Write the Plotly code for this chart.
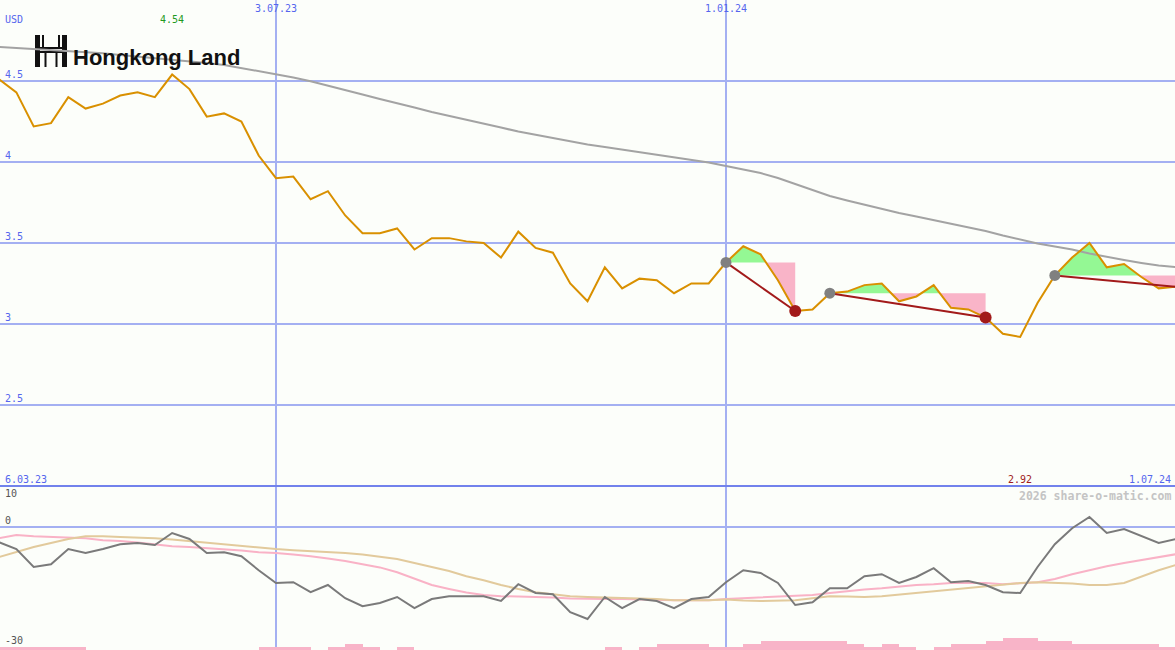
import pandas as pd
import plotly.graph_objects as go

# ---------------- data ----------------
start_date = "2023-03-13"
n_weeks = 69
dates = pd.date_range(start_date, periods=n_weeks, freq="7D")

price = [4.51, 4.43, 4.22, 4.24, 4.40, 4.33, 4.36, 4.41, 4.43, 4.40,
         4.54, 4.45, 4.28, 4.30, 4.25, 4.04, 3.90, 3.91, 3.77, 3.82,
         3.67, 3.56, 3.56, 3.59, 3.46, 3.53, 3.53, 3.51, 3.50, 3.41,
         3.57, 3.47, 3.44, 3.25, 3.14, 3.35, 3.22, 3.28, 3.27, 3.19,
         3.25, 3.25, 3.38, 3.48, 3.43, 3.27, 3.08, 3.09, 3.19, 3.20,
         3.24, 3.25, 3.14, 3.17, 3.24, 3.10, 3.09, 3.04, 2.94, 2.92,
         3.13, 3.30, 3.41, 3.50, 3.35, 3.37, 3.29, 3.22, 3.23]

ma200 = [4.710, 4.704, 4.698, 4.691, 4.685, 4.679, 4.671, 4.660, 4.651, 4.642,
         4.633, 4.623, 4.611, 4.599, 4.580, 4.562, 4.543, 4.522, 4.498, 4.472,
         4.444, 4.417, 4.389, 4.364, 4.336, 4.309, 4.285, 4.262, 4.241, 4.213,
         4.188, 4.167, 4.148, 4.127, 4.108, 4.093, 4.077, 4.065, 4.049, 4.031,
         4.015, 3.997, 3.975, 3.954, 3.932, 3.901, 3.864, 3.824, 3.790, 3.762,
         3.735, 3.710, 3.685, 3.664, 3.642, 3.620, 3.599, 3.574, 3.546, 3.522,
         3.497, 3.478, 3.460, 3.435, 3.414, 3.395, 3.377, 3.361, 3.352]

osc_main = [-3.8, -5.5, -10.0, -9.3, -5.5, -6.5, -5.5, -4.3, -4.0, -4.5,
            -1.5, -3.0, -6.5, -6.3, -7.3, -10.8, -14.0, -13.8, -16.3, -14.5,
            -17.8, -19.8, -19.0, -17.5, -20.3, -18.0, -17.3, -17.3, -17.3, -18.5,
            -14.3, -16.5, -16.8, -21.3, -23.0, -17.5, -20.3, -18.0, -18.5, -20.3,
            -18.0, -17.5, -13.8, -10.8, -11.5, -14.0, -19.5, -18.8, -15.3, -15.3,
            -12.3, -11.8, -14.0, -12.5, -10.3, -13.8, -13.5, -14.5, -16.3, -16.5,
            -10.0, -4.3, -0.3, 2.5, -1.5, -0.5, -2.3, -4.0, -3.0]

osc_pink = [-2.8, -2.0, -2.3, -2.5, -2.6, -2.8, -3.3, -3.5, -3.9, -4.4,
            -4.8, -5.0, -5.3, -5.5, -5.9, -6.3, -6.5, -6.9, -7.3, -7.9,
            -8.5, -9.3, -10.1, -11.3, -13.0, -14.5, -15.5, -16.4, -17.0, -17.3,
            -17.4, -17.5, -17.6, -17.9, -18.0, -18.0, -18.0, -18.1, -18.3, -18.3,
            -18.3, -18.3, -18.0, -17.8, -17.6, -17.5, -17.3, -17.0, -16.5, -16.0,
            -15.6, -15.3, -14.9, -14.5, -14.3, -14.0, -14.0, -14.0, -14.3, -14.1,
            -13.8, -13.0, -11.8, -10.8, -9.8, -9.0, -8.3, -7.5, -6.8]

osc_tan = [-7.5, -6.3, -5.0, -4.0, -3.0, -2.3, -2.3, -2.5, -2.6, -2.8,
           -3.1, -3.5, -4.0, -4.4, -4.8, -5.1, -5.5, -5.8, -6.0, -6.3,
           -6.5, -6.9, -7.5, -8.0, -9.0, -10.0, -11.0, -12.3, -13.3, -14.5,
           -15.5, -16.3, -16.8, -17.3, -17.5, -17.6, -17.8, -17.9, -18.0, -18.3,
           -18.3, -18.3, -18.1, -18.4, -18.5, -18.4, -18.3, -17.8, -17.3, -17.4,
           -17.5, -17.3, -16.9, -16.5, -16.0, -15.6, -15.3, -14.8, -14.4, -14.0,
           -13.8, -13.9, -14.1, -14.5, -14.5, -14.0, -12.3, -10.8, -9.5]

volume_level = [1, 1, 1, 1, 1, 0, 0, 0, 0, 0,
                0, 0, 0, 0, 0, 1, 1, 1, 0, 1,
                2, 1, 0, 1, 0, 0, 0, 0, 0, 0,
                0, 0, 0, 0, 0, 1, 0, 1, 2, 2,
                2, 1, 1, 2, 3, 3, 3, 3, 3, 2,
                1, 2, 1, 0, 1, 2, 2, 3, 4, 4,
                3, 3, 2, 2, 2, 2, 2, 1, 1]

# trend segments: (start index = grey marker, end index = red marker / last point)
seg_start = [42, 48, 61]
seg_end = [46, 57, 68]
red_marker_idx = [46, 57]

x_range = ["2023-03-13 09:00", "2024-06-30 14:30"]
x_ticks = ["2023-07-03", "2024-01-01"]
x_tick_text = ["3.07.23", "1.01.24"]
y_ticks = [2.5, 3, 3.5, 4, 4.5]
y_tick_text = ["2.5", "3", "3.5", "4", "4.5"]
osc_ticks = [10, 0, -30]
high_label, high_idx = "4.54", 10
low_label, low_idx = "2.92", 59

# ---------------- styles ----------------
W, H = 1175, 650
BG = "#fcfefa"
GRID = "#a4b0f2"
SEP = "#7282ec"
BLUE = "#5566ee"
MONO = "DejaVu Sans Mono"
PRICE_C = "#d99000"
MA_C = "#a3a3a3"
GREEN_F = "#94f894"
PINK_F = "#f9b4c8"
TREND_C = "#a21a1a"

top_dom = [1 - 486 / H, 1]
bot_dom = [0, 1 - 487 / H]

fig = go.Figure()

# ---------- trend fills ----------
ts = [d.value for d in dates]  # ns numeric
for s, e in zip(seg_start, seg_end):
    lvl = price[s]
    xs, ps = [], []
    for i in range(s, e + 1):
        if i > s:
            a, b = price[i - 1] - lvl, price[i] - lvl
            if a * b < 0:
                f = a / (a - b)
                xs.append(ts[i - 1] + f * (ts[i] - ts[i - 1]))
                ps.append(lvl)
        xs.append(ts[i])
        ps.append(price[i])
    xd = pd.to_datetime(xs)
    up = [max(p, lvl) for p in ps]
    lo = [min(p, lvl) for p in ps]
    base = [lvl] * len(xs)
    common = dict(x=xd, mode="lines", line=dict(width=0), hoverinfo="skip",
                  showlegend=False, xaxis="x", yaxis="y")
    fig.add_trace(go.Scatter(y=base, **common))
    fig.add_trace(go.Scatter(y=up, fill="tonexty", fillcolor=GREEN_F, **common))
    fig.add_trace(go.Scatter(y=base, **common))
    fig.add_trace(go.Scatter(y=lo, fill="tonexty", fillcolor=PINK_F, **common))

# ---------- moving average & price ----------
fig.add_trace(go.Scatter(x=dates, y=ma200, mode="lines",
                         line=dict(color=MA_C, width=2), showlegend=False))
fig.add_trace(go.Scatter(x=dates, y=price, mode="lines",
                         line=dict(color=PRICE_C, width=2), showlegend=False))

# ---------- trend lines ----------
for s, e in zip(seg_start, seg_end):
    fig.add_trace(go.Scatter(x=[dates[s], dates[e]], y=[price[s], price[e]],
                             mode="lines", line=dict(color=TREND_C, width=2),
                             showlegend=False))
fig.add_trace(go.Scatter(x=[dates[i] for i in seg_start],
                         y=[price[i] for i in seg_start], mode="markers",
                         marker=dict(color="#808080", size=11), showlegend=False))
fig.add_trace(go.Scatter(x=[dates[i] for i in red_marker_idx],
                         y=[price[i] for i in red_marker_idx], mode="markers",
                         marker=dict(color=TREND_C, size=12), showlegend=False))

# ---------- lower panel ----------
fig.add_trace(go.Bar(x=dates, y=volume_level, offset=0, width=7 * 86400000,
                     marker=dict(color="#f8b4c8", line=dict(width=0)),
                     xaxis="x2", yaxis="y3", showlegend=False))
fig.add_trace(go.Scatter(x=dates, y=osc_pink, mode="lines",
                         line=dict(color="#f9b2c6", width=2),
                         xaxis="x2", yaxis="y2", showlegend=False))
fig.add_trace(go.Scatter(x=dates, y=osc_tan, mode="lines",
                         line=dict(color="#e2ca9c", width=2),
                         xaxis="x2", yaxis="y2", showlegend=False))
fig.add_trace(go.Scatter(x=dates, y=osc_main, mode="lines",
                         line=dict(color="#7a7a7a", width=2),
                         xaxis="x2", yaxis="y2", showlegend=False))

grid_x = dict(type="date", range=x_range, tickvals=x_ticks, showticklabels=False,
              showgrid=True, gridcolor=GRID, gridwidth=2, zeroline=False,
              showline=False, ticks="")
fig.update_layout(
    width=W, height=H, margin=dict(l=0, r=0, t=0, b=0),
    paper_bgcolor=BG, plot_bgcolor=BG, showlegend=False, bargap=0,
    hovermode=False,
    xaxis=dict(domain=[0, 1], anchor="y", **grid_x),
    xaxis2=dict(domain=[0, 1], anchor="y2", matches="x", **grid_x),
    yaxis=dict(domain=top_dom, range=[2.0, 5.0], tickvals=y_ticks,
               showticklabels=False, showgrid=True, gridcolor=GRID, gridwidth=2,
               zeroline=False, anchor="x"),
    yaxis2=dict(domain=bot_dom, range=[-30.75, 10], tickvals=[0],
                showticklabels=False, showgrid=True, gridcolor=GRID, gridwidth=2,
                zeroline=False, anchor="x2"),
    yaxis3=dict(overlaying="y2", range=[0, 163 / 3], visible=False, anchor="x2"),
)

# separator between panels
fig.add_shape(type="line", xref="paper", yref="paper", x0=0, x1=1,
              y0=top_dom[0], y1=top_dom[0], line=dict(color=SEP, width=2))

# ---------- logo ----------
def px_rect(x0, y0, x1, y1):
    fig.add_shape(type="rect", xref="paper", yref="paper", layer="between",
                  x0=x0 / W, x1=x1 / W, y0=1 - y1 / H, y1=1 - y0 / H,
                  fillcolor="#111111", line=dict(width=0))

px_rect(35, 35, 40, 67)
px_rect(62, 35, 67, 67)
px_rect(42, 35, 44, 48)
px_rect(58, 35, 60, 48)
px_rect(35, 47, 67, 49)
px_rect(35, 51, 67, 53)
px_rect(44.5, 53, 46.5, 67)
px_rect(55.5, 53, 57.5, 67)
fig.add_annotation(text="<b>Hongkong Land</b>", xref="paper", yref="paper",
                   x=71 / W, y=1 - 58 / H, xanchor="left", yanchor="middle",
                   showarrow=False,
                   font=dict(family="Liberation Sans", size=22, color="#111111"))

# ---------- labels ----------
def label(text, x, y, xref="paper", yref="paper", xanchor="left",
          yanchor="middle", color=BLUE, size=10, bold=False):
    fig.add_annotation(text=f"<b>{text}</b>" if bold else text, x=x, y=y,
                       xref=xref, yref=yref, xanchor=xanchor, yanchor=yanchor,
                       showarrow=False, borderpad=0,
                       font=dict(family=MONO, size=size, color=color))

label("USD", 4 / W, 1 - 19 / H)
for v, t in zip(y_ticks, y_tick_text):
    label(t, 4 / W, v, yref="y", yanchor="bottom")
for d, t in zip(x_ticks, x_tick_text):
    label(t, d, 1 - 9 / H, xref="x", xanchor="center")
label(high_label, dates[high_idx], 1 - 19 / H, xref="x", xanchor="center",
      color="#1f9a1f")
label("6.03.23", 4 / W, top_dom[0], yanchor="bottom")
label("1.07.24", 1 - 3 / W, top_dom[0], xanchor="right", yanchor="bottom")
label(low_label, dates[low_idx], top_dom[0], xref="x", xanchor="center",
      yanchor="bottom", color="#a01c1c")
label("2026 share-o-matic.com", 1 - 3 / W, 1 - 496 / H, xanchor="right",
      color="#c4c4c4", size=11.5, bold=True)
label(str(osc_ticks[0]), 4 / W, osc_ticks[0], yref="y2", yanchor="top",
      color="#555555")
for v in osc_ticks[1:]:
    label(str(v), 4 / W, v, yref="y2", yanchor="bottom", color="#555555")

fig.write_html("out.html", config={"displayModeBar": False, "staticPlot": True},
               post_script="document.body.style.margin='0';")
